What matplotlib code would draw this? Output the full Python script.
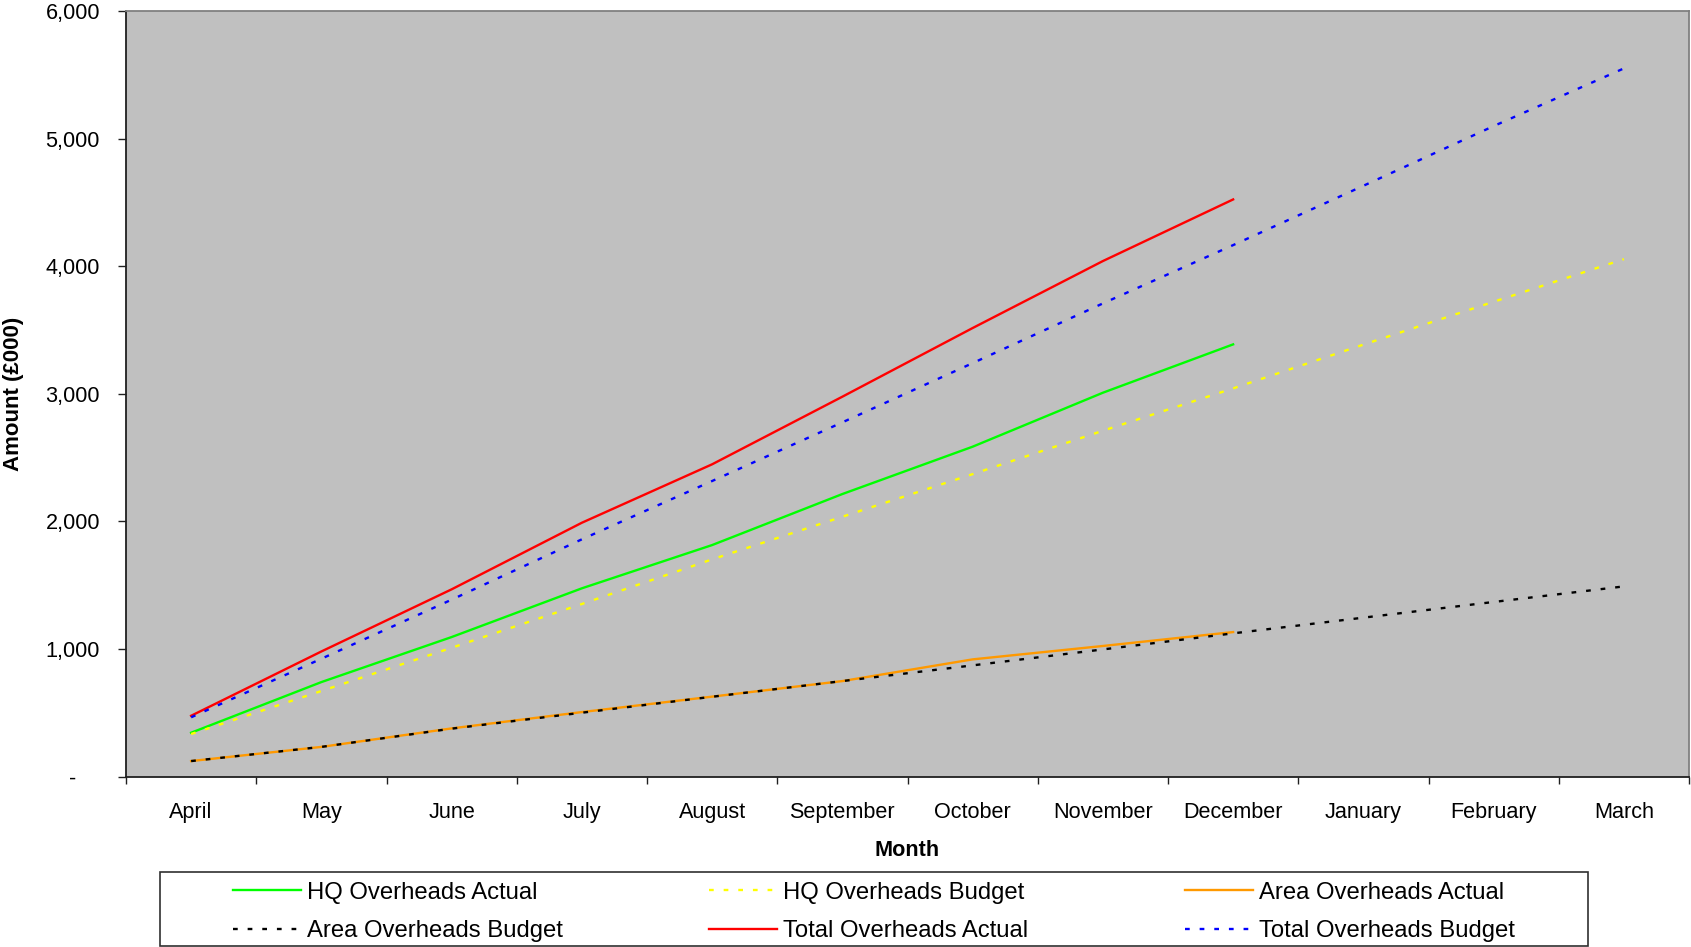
import matplotlib
matplotlib.use("Agg")
import matplotlib.pyplot as plt
from matplotlib.patches import Rectangle

plt.rcParams['font.family'] = ['Liberation Sans', 'DejaVu Sans']

months = ['April', 'May', 'June', 'July', 'August', 'September', 'October',
          'November', 'December', 'January', 'February', 'March']

# cumulative overheads, £000 (actuals only run to December)
hq_actual = [343, 740, 1093, 1475, 1814, 2214, 2585, 3008, 3387]
hq_budget = [333, 670, 1009, 1352, 1702, 2036, 2370, 2710, 3042, 3385, 3721, 4055]
area_actual = [121, 232, 377, 505, 626, 748, 918, 1023, 1132]
area_budget = [121, 232, 375, 500, 625, 748, 871, 996, 1122, 1245, 1368, 1490]
total_actual = [476, 980, 1467, 1989, 2447, 2977, 3515, 4040, 4523]
total_budget = [464, 923, 1386, 1859, 2316, 2776, 3240, 3708, 4165, 4630, 5098, 5550]

y_ticks = [0, 1000, 2000, 3000, 4000, 5000, 6000]

dotted = (0, (2.0, 4.2))
series = [
    ('HQ Overheads Actual', hq_actual, '#00FF00', '-'),
    ('HQ Overheads Budget', hq_budget, '#FFFF00', dotted),
    ('Area Overheads Actual', area_actual, '#FF9900', '-'),
    ('Area Overheads Budget', area_budget, '#000000', dotted),
    ('Total Overheads Actual', total_actual, '#FF0000', '-'),
    ('Total Overheads Budget', total_budget, '#0000FF', dotted),
]

W, H = 1691, 947
fig = plt.figure(figsize=(W / 100, H / 100), dpi=100)
ax = fig.add_axes([126 / W, 1 - 776.5 / H, (1689 - 126) / W, (776.5 - 11) / H])
ax.set_facecolor('#C0C0C0')

handles = []
for label, vals, color, ls in series:
    line, = ax.plot(range(len(vals)), vals, color=color, lw=1.7,
                    linestyle=ls, label=label)
    handles.append(line)

ax.set_xlim(-0.5, len(months) - 0.5)
ax.set_ylim(0, 6000)

# month names sit between the tick marks
ax.set_xticks(range(len(months)))
ax.set_xticklabels(months)
ax.set_xticks([i - 0.5 for i in range(len(months) + 1)], minor=True)
ax.tick_params(axis='x', which='major', length=0, pad=18, labelsize=15.6)
ax.tick_params(axis='x', which='minor', length=5, width=1, color='#202020')

ax.set_yticks(y_ticks)
ax.set_yticklabels(['-    ' if v == 0 else f'{v:,}' for v in y_ticks])
ax.tick_params(axis='y', length=5.8, width=1, pad=13, labelsize=15.6,
               color='#202020')

for side in ('left', 'bottom'):
    ax.spines[side].set_color('#202020')
    ax.spines[side].set_linewidth(1.3)
for side in ('top', 'right'):
    ax.spines[side].set_color('#808080')
    ax.spines[side].set_linewidth(1.3)

fig.text(907.5 / W, 1 - 850 / H, 'Month', ha='center', va='center',
         fontsize=15.6, fontweight='bold')
fig.text(14 / W, 1 - 394 / H, 'Amount (£000)', ha='center', va='center',
         rotation=90, fontsize=16, fontweight='bold')

# legend: framed box with three columns laid out row by row
fig.add_artist(Rectangle((160 / W, 1 - 946 / H), (1588 - 160) / W, (946 - 872) / H,
                         transform=fig.transFigure, fill=False,
                         edgecolor='#303030', lw=1.2))
col_x = [233, 709, 1185]
for c, x0 in enumerate(col_x):
    col = [handles[c], handles[c + 3]]
    fig.legend(col, [h.get_label() for h in col], loc='center left',
               bbox_to_anchor=(x0 / W, 1 - 912 / H), frameon=False,
               fontsize=17.2, handlelength=2.85, handletextpad=0.25,
               borderpad=0, borderaxespad=0, labelspacing=0.7)

fig.savefig('out.png', dpi=100, facecolor='white')
